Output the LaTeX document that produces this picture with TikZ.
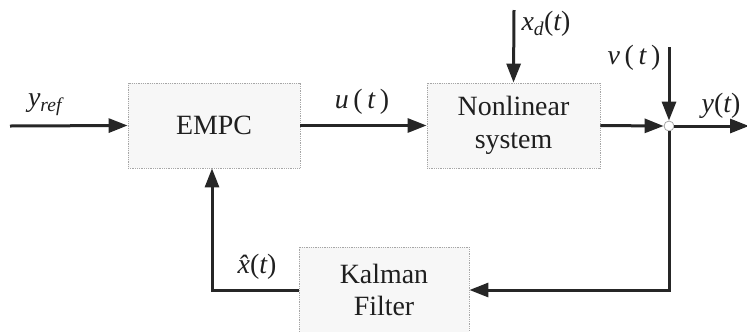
\documentclass[tikz,border=0pt]{standalone}
\usepackage{fontspec}
\setmainfont{Liberation Serif}
\usetikzlibrary{arrows.meta}
\tikzset{
  blockbox/.style={draw=gray!70, densely dotted, line width=0.8bp, fill=gray!6,
    minimum width=#1, align=center, inner sep=0pt, text=black!88,
    font=\fontsize{28}{33}\selectfont},
  sigline/.style={line width=3bp, draw=black!85,
    -{Triangle[length=19bp,width=14bp]}},
  siglabel/.style={text=black!88, font=\fontsize{28}{33}\selectfont, inner sep=0pt},
  sumpoint/.style={circle, draw=gray!70, fill=white, line width=0.8bp,
    minimum size=10bp, inner sep=0pt},
}
\begin{document}
\begin{tikzpicture}[x=1bp, y=-1bp]
\useasboundingbox (0,0) rectangle (747,331);

% blocks
\node[blockbox=172bp, minimum height=85bp] (empc) at (214,125.5) {EMPC};
\node[blockbox=173bp, minimum height=85bp] (plant) at (513.5,125.5) {Nonlinear\\system};
\node[blockbox=170bp, minimum height=86bp] (kf) at (384,290) {Kalman\\Filter};
\node[sumpoint] (sum) at (669,126) {};

% free ends of the signals
\coordinate (yin) at (10,126);
\coordinate (xdin) at (514,10);
\coordinate (vin) at (669,47);
\coordinate (yout) at (749,126);
\coordinate (corner) at (669,290);
\coordinate (fbk) at (212,290);

% forward path
\draw[sigline] (yin) -- (empc.west);
\draw[sigline] (empc.east) -- (plant.west);
\draw[sigline] (plant.east) -- (sum.west);
\draw[sigline] (xdin) -- (plant.north);
\draw[sigline] (vin) -- (sum.north);
\draw[sigline] (sum.east) -- (yout);

% feedback through the estimator
\draw[sigline] (sum.south) -- (corner) -- (kf.east);
\draw[sigline] (kf.west) -- (fbk) -- (fbk |- empc.south);

% signal labels
\node[siglabel] (lyref) at (45,105) {\itshape y\textsubscript{ref}};
\node[siglabel] (lu) at (362,102) {\itshape u\,\upshape(\,\itshape t\,\upshape)};
\node[siglabel] (lxd) at (546,24) {\itshape x\textsubscript{d}\upshape(\itshape t\upshape)};
\node[siglabel] (lv) at (634,58) {\itshape v\,\upshape(\,\itshape t\,\upshape)};
\node[siglabel] (ly) at (721,106) {\itshape y\upshape(\itshape t\upshape)};
\node[siglabel] (lxh) at (257,267) {\itshape \^x\upshape(\itshape t\upshape)};
\end{tikzpicture}
\end{document}
